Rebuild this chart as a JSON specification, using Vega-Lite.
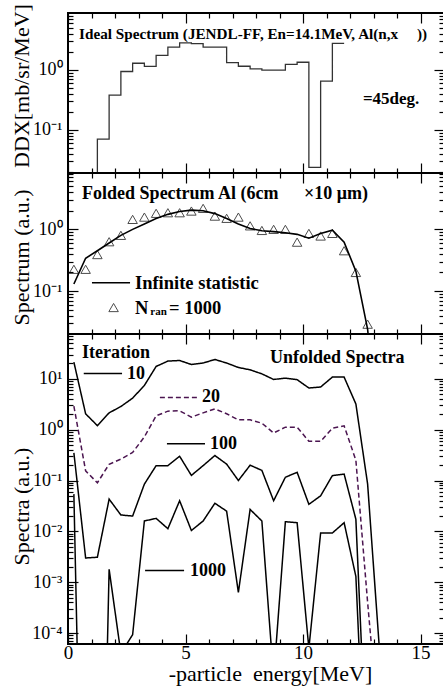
{
"$schema": "https://vega.github.io/schema/vega-lite/v6.json",
"padding": {"left": 8, "top": 2, "right": 0, "bottom": 2},
"spacing": 0,
"bounds": "flush",
"config": {
 "view": {"stroke": "black", "strokeWidth": 2},
 "axis": {"labelFont": "Liberation Serif", "titleFont": "Liberation Serif", "labelColor": "black", "titleColor": "black", "tickColor": "black", "tickWidth": 1.2, "domain": false, "grid": false, "labelFlush": false, "labelOverlap": false, "labelBound": false, "titleFontWeight": "normal"}
},
"datasets": {
 "ideal": [{"e":1.25,"v":0.019},{"e":1.25,"v":0.07},{"e":1.75,"v":0.38},{"e":2.25,"v":0.94},{"e":2.75,"v":1.29},{"e":3.25,"v":1.14},{"e":3.75,"v":1.75},{"e":4.25,"v":2.39},{"e":4.75,"v":2.82},{"e":5.25,"v":2.75},{"e":5.75,"v":2.39},{"e":6.25,"v":2.39},{"e":6.75,"v":1.32},{"e":7.25,"v":1.15},{"e":7.75,"v":1.04},{"e":8.25,"v":0.99},{"e":8.75,"v":0.99},{"e":9.25,"v":1.24},{"e":9.75,"v":1.34},{"e":10.25,"v":0.0236},{"e":10.75,"v":0.65},{"e":11.25,"v":2.78},{"e":11.75,"v":2.78}],
 "notes1": [{"x":0.47,"y":4.0,"t":"Ideal Spectrum (JENDL-FF, En=14.1MeV, Al(n,x"},{"x":14.85,"y":4.0,"t":"))"}],
 "notes1b": [{"x":12.55,"y":0.33,"t":"=45deg."}],
 "curve": [{"e":0.25,"v":0.13},{"e":0.75,"v":0.34},{"e":1.25,"v":0.45},{"e":1.75,"v":0.6},{"e":2.25,"v":0.8},{"e":2.75,"v":1.0},{"e":3.25,"v":1.22},{"e":3.75,"v":1.5},{"e":4.25,"v":1.75},{"e":4.75,"v":1.95},{"e":5.25,"v":2.05},{"e":5.75,"v":2.0},{"e":6.25,"v":1.8},{"e":6.75,"v":1.5},{"e":7.25,"v":1.22},{"e":7.75,"v":1.03},{"e":8.25,"v":0.95},{"e":8.75,"v":0.92},{"e":9.25,"v":0.88},{"e":9.75,"v":0.83},{"e":10.25,"v":0.72},{"e":10.75,"v":0.86},{"e":11.25,"v":0.97},{"e":11.75,"v":0.62},{"e":12.25,"v":0.21},{"e":12.75,"v":0.024},{"e":13.25,"v":0.0003}],
 "tri": [{"e":0.25,"v":0.225},{"e":0.75,"v":0.225},{"e":1.25,"v":0.39},{"e":1.75,"v":0.63},{"e":2.25,"v":0.8},{"e":2.75,"v":1.45},{"e":3.25,"v":1.58},{"e":3.75,"v":1.82},{"e":4.25,"v":1.86},{"e":4.75,"v":1.86},{"e":5.25,"v":1.98},{"e":5.75,"v":2.19},{"e":6.25,"v":1.64},{"e":6.75,"v":1.51},{"e":7.25,"v":1.58},{"e":7.75,"v":1.14},{"e":8.25,"v":0.96},{"e":8.75,"v":1.0},{"e":9.25,"v":1.0},{"e":9.75,"v":0.62},{"e":10.25,"v":0.86},{"e":10.75,"v":0.78},{"e":11.25,"v":0.86},{"e":11.75,"v":0.45},{"e":12.25,"v":0.2},{"e":12.75,"v":0.029}],
 "leg2line": [{"x":1.02,"x2":2.64,"y":0.136}],
 "leg2pt": [{"x":1.94,"y":0.054}],
 "notes2t": [{"x":0.6,"y":3.73,"t":"Folded Spectrum Al (6cm"},{"x":10.04,"y":3.73,"t":"×10 μm)"}],
 "notes2": [{"x":2.85,"y":0.136,"t":"Infinite statistic"},{"x":2.85,"y":0.054,"t":"N"},{"x":4.3,"y":0.054,"t":"= 1000"}],
 "notes2sub": [{"x":3.5,"y":0.045,"t":"ran"}],
 "unf": [
  {"it":"10","e":0.25,"v":21.3},{"it":"10","e":0.75,"v":2.05},{"it":"10","e":1.25,"v":1.2},{"it":"10","e":1.75,"v":2.14},{"it":"10","e":2.25,"v":2.85},{"it":"10","e":2.75,"v":4.17},{"it":"10","e":3.25,"v":7.4},{"it":"10","e":3.75,"v":17.5},{"it":"10","e":4.25,"v":22.3},{"it":"10","e":4.75,"v":22.9},{"it":"10","e":5.25,"v":19.1},{"it":"10","e":5.75,"v":20.4},{"it":"10","e":6.25,"v":24},{"it":"10","e":6.75,"v":20.4},{"it":"10","e":7.25,"v":16.7},{"it":"10","e":7.75,"v":15},{"it":"10","e":8.25,"v":12.5},{"it":"10","e":8.75,"v":9.7},{"it":"10","e":9.25,"v":10.3},{"it":"10","e":9.75,"v":9.6},{"it":"10","e":10.25,"v":6.6},{"it":"10","e":10.75,"v":6.9},{"it":"10","e":11.25,"v":10.8},{"it":"10","e":11.75,"v":10.8},{"it":"10","e":12.25,"v":3.2},{"it":"10","e":12.75,"v":0.085},{"it":"10","e":13.25,"v":0.00005},
  {"it":"20","e":0.25,"v":2.9},{"it":"20","e":0.75,"v":0.155},{"it":"20","e":1.25,"v":0.09},{"it":"20","e":1.75,"v":0.209},{"it":"20","e":2.25,"v":0.263},{"it":"20","e":2.75,"v":0.355},{"it":"20","e":3.25,"v":0.72},{"it":"20","e":3.75,"v":1.87},{"it":"20","e":4.25,"v":2.31},{"it":"20","e":4.75,"v":2.35},{"it":"20","e":5.25,"v":1.76},{"it":"20","e":5.75,"v":2.14},{"it":"20","e":6.25,"v":2.56},{"it":"20","e":6.75,"v":2.05},{"it":"20","e":7.25,"v":1.56},{"it":"20","e":7.75,"v":1.56},{"it":"20","e":8.25,"v":1.34},{"it":"20","e":8.75,"v":0.86},{"it":"20","e":9.25,"v":1.12},{"it":"20","e":9.75,"v":1.12},{"it":"20","e":10.25,"v":0.59},{"it":"20","e":10.75,"v":0.59},{"it":"20","e":11.25,"v":1.07},{"it":"20","e":11.75,"v":1.19},{"it":"20","e":12.25,"v":0.25},{"it":"20","e":12.75,"v":0.0004},{"it":"20","e":13.25,"v":0.000001},
  {"it":"100","e":0.25,"v":0.35},{"it":"100","e":0.75,"v":0.003},{"it":"100","e":1.25,"v":0.0031},{"it":"100","e":1.75,"v":0.043},{"it":"100","e":2.25,"v":0.021},{"it":"100","e":2.75,"v":0.02},{"it":"100","e":3.25,"v":0.085},{"it":"100","e":3.75,"v":0.196},{"it":"100","e":4.25,"v":0.196},{"it":"100","e":4.75,"v":0.3},{"it":"100","e":5.25,"v":0.126},{"it":"100","e":5.75,"v":0.196},{"it":"100","e":6.25,"v":0.31},{"it":"100","e":6.75,"v":0.21},{"it":"100","e":7.25,"v":0.1},{"it":"100","e":7.75,"v":0.2},{"it":"100","e":8.25,"v":0.158},{"it":"100","e":8.75,"v":0.04},{"it":"100","e":9.25,"v":0.116},{"it":"100","e":9.75,"v":0.145},{"it":"100","e":10.25,"v":0.034},{"it":"100","e":10.75,"v":0.05},{"it":"100","e":11.25,"v":0.125},{"it":"100","e":11.75,"v":0.134},{"it":"100","e":12.25,"v":0.0173},{"it":"100","e":12.75,"v":0.0000001},
  {"it":"1000","e":0.25,"v":0.054},{"it":"1000","e":0.75,"v":1e-12},{"it":"1000","e":1.25,"v":1e-13},{"it":"1000","e":1.75,"v":0.0018},{"it":"1000","e":2.25,"v":0.00004},{"it":"1000","e":2.75,"v":0.000093},{"it":"1000","e":3.25,"v":0.016},{"it":"1000","e":3.75,"v":0.018},{"it":"1000","e":4.25,"v":0.0113},{"it":"1000","e":4.75,"v":0.04},{"it":"1000","e":5.25,"v":0.0104},{"it":"1000","e":5.75,"v":0.016},{"it":"1000","e":6.25,"v":0.0357},{"it":"1000","e":6.75,"v":0.025},{"it":"1000","e":7.25,"v":0.00063},{"it":"1000","e":7.75,"v":0.027},{"it":"1000","e":8.25,"v":0.016},{"it":"1000","e":8.75,"v":0.000013},{"it":"1000","e":9.25,"v":0.0155},{"it":"1000","e":9.75,"v":0.0148},{"it":"1000","e":10.25,"v":0.00005},{"it":"1000","e":10.75,"v":0.0093},{"it":"1000","e":11.25,"v":0.0093},{"it":"1000","e":11.75,"v":0.0148},{"it":"1000","e":12.25,"v":0.0013},{"it":"1000","e":12.75,"v":1e-8}
 ],
 "leg3": [{"it":"10","x":0.67,"x2":2.3,"y":12.7},{"it":"20","x":3.91,"x2":5.57,"y":4.3},{"it":"100","x":4.21,"x2":5.83,"y":0.53},{"it":"1000","x":3.28,"x2":4.94,"y":0.0017}],
 "notes3": [{"x":0.6,"y":32,"t":"Iteration"},{"x":2.51,"y":12.7,"t":"10"},{"x":5.7,"y":4.3,"t":"20"},{"x":6.04,"y":0.53,"t":"100"},{"x":5.19,"y":0.0017,"t":"1000"},{"x":8.6,"y":26,"t":"Unfolded Spectra"}]
},
"vconcat": [
 {
  "width": 376, "height": 160,
  "layer": [
   {"data": {"name": "ideal"}, "mark": {"type": "line", "interpolate": "step-after", "color": "#333333", "strokeWidth": 1.3, "clip": true},
    "encoding": {
     "x": {"field": "e", "type": "quantitative", "scale": {"domain": [0, 16], "nice": false, "zero": false},
       "axis": {"orient": "bottom", "values": [0,1,2,3,4,5,6,7,8,9,10,11,12,13,14,15,16], "labels": false, "title": null, "tickSize": {"condition": {"test": "datum.value % 5 === 0", "value": -10}, "value": -5}}},
     "y": {"field": "v", "type": "quantitative", "scale": {"type": "log", "domain": [0.019, 8.9], "nice": false},
       "axis": {"orient": "left", "values": [0.02,0.03,0.04,0.05,0.06,0.07,0.08,0.09,0.1,0.2,0.3,0.4,0.5,0.6,0.7,0.8,0.9,1,2,3,4,5,6,7,8],
        "labelExpr": "abs(log(datum.value)/LN10-round(log(datum.value)/LN10))<0.001 ? '10'+(round(log(datum.value)/LN10)<0?'⁻':'')+substring('⁰¹²³⁴⁵⁶⁷⁸⁹',abs(round(log(datum.value)/LN10)),abs(round(log(datum.value)/LN10))+1) : ''",
        "labelFontSize": 18, "labelPadding": 16,
        "tickSize": {"condition": {"test": "abs(log(datum.value)/LN10-round(log(datum.value)/LN10))<0.001", "value": -10}, "value": -5},
        "title": "DDX[mb/sr/MeV]", "titleFontSize": 22, "titleX": -47, "titleY": 72.5, "titleBaseline": "middle", "titleAlign": "center", "titleAngle": -90}}
    }},
   {"data": {"name": "notes1"}, "mark": {"type": "text", "align": "left", "baseline": "middle", "font": "Liberation Serif", "fontWeight": "bold", "fontSize": 15.2, "color": "black"},
    "encoding": {
     "x": {"field": "x", "type": "quantitative", "scale": {"domain": [0, 16], "nice": false, "zero": false},
       "axis": {"orient": "top", "values": [0,1,2,3,4,5,6,7,8,9,10,11,12,13,14,15,16], "labels": false, "title": null, "tickSize": {"condition": {"test": "datum.value % 5 === 0", "value": -10}, "value": -5}}},
     "y": {"field": "y", "type": "quantitative", "scale": {"type": "log", "domain": [0.019, 8.9], "nice": false},
       "axis": {"orient": "right", "values": [0.02,0.03,0.04,0.05,0.06,0.07,0.08,0.09,0.1,0.2,0.3,0.4,0.5,0.6,0.7,0.8,0.9,1,2,3,4,5,6,7,8], "labels": false, "title": null,
        "tickSize": {"condition": {"test": "abs(log(datum.value)/LN10-round(log(datum.value)/LN10))<0.001", "value": -10}, "value": -5}}},
     "text": {"field": "t"}
    }},
   {"data": {"name": "notes1b"}, "mark": {"type": "text", "align": "left", "baseline": "middle", "font": "Liberation Serif", "fontWeight": "bold", "fontSize": 17, "color": "black"},
    "encoding": {"x": {"field": "x", "type": "quantitative", "axis": null}, "y": {"field": "y", "type": "quantitative", "axis": null}, "text": {"field": "t"}}}
  ],
  "resolve": {"axis": {"x": "independent", "y": "independent"}}
 },
 {
  "width": 376, "height": 161,
  "layer": [
   {"data": {"name": "curve"}, "mark": {"type": "line", "color": "black", "strokeWidth": 1.6, "clip": true},
    "encoding": {
     "x": {"field": "e", "type": "quantitative", "scale": {"domain": [0, 16], "nice": false, "zero": false},
       "axis": {"orient": "bottom", "values": [0,1,2,3,4,5,6,7,8,9,10,11,12,13,14,15,16], "labels": false, "title": null, "tickSize": {"condition": {"test": "datum.value % 5 === 0", "value": -10}, "value": -5}}},
     "y": {"field": "v", "type": "quantitative", "scale": {"type": "log", "domain": [0.0201, 8.2], "nice": false},
       "axis": {"orient": "left", "values": [0.03,0.04,0.05,0.06,0.07,0.08,0.09,0.1,0.2,0.3,0.4,0.5,0.6,0.7,0.8,0.9,1,2,3,4,5,6,7,8],
        "labelExpr": "abs(log(datum.value)/LN10-round(log(datum.value)/LN10))<0.001 ? '10'+(round(log(datum.value)/LN10)<0?'⁻':'')+substring('⁰¹²³⁴⁵⁶⁷⁸⁹',abs(round(log(datum.value)/LN10)),abs(round(log(datum.value)/LN10))+1) : ''",
        "labelFontSize": 18, "labelPadding": 16,
        "tickSize": {"condition": {"test": "abs(log(datum.value)/LN10-round(log(datum.value)/LN10))<0.001", "value": -10}, "value": -5},
        "title": "Spectrum (a.u.)", "titleFontSize": 22, "titleX": -47, "titleY": 84, "titleBaseline": "middle", "titleAlign": "center", "titleAngle": -90}}
    }},
   {"data": {"name": "tri"}, "mark": {"type": "point", "shape": "triangle-up", "filled": false, "stroke": "black", "strokeWidth": 1, "size": 90},
    "encoding": {
     "x": {"field": "e", "type": "quantitative", "scale": {"domain": [0, 16], "nice": false, "zero": false},
       "axis": {"orient": "top", "values": [0,1,2,3,4,5,6,7,8,9,10,11,12,13,14,15,16], "labels": false, "title": null, "tickSize": {"condition": {"test": "datum.value % 5 === 0", "value": -10}, "value": -5}}},
     "y": {"field": "v", "type": "quantitative", "scale": {"type": "log", "domain": [0.0201, 8.2], "nice": false},
       "axis": {"orient": "right", "values": [0.03,0.04,0.05,0.06,0.07,0.08,0.09,0.1,0.2,0.3,0.4,0.5,0.6,0.7,0.8,0.9,1,2,3,4,5,6,7,8], "labels": false, "title": null,
        "tickSize": {"condition": {"test": "abs(log(datum.value)/LN10-round(log(datum.value)/LN10))<0.001", "value": -10}, "value": -5}}}
    }},
   {"data": {"name": "leg2line"}, "mark": {"type": "rule", "color": "black", "strokeWidth": 1.6},
    "encoding": {"x": {"field": "x", "type": "quantitative", "axis": null}, "x2": {"field": "x2"}, "y": {"field": "y", "type": "quantitative", "axis": null}}},
   {"data": {"name": "leg2pt"}, "mark": {"type": "point", "shape": "triangle-up", "filled": false, "stroke": "black", "strokeWidth": 1, "size": 90},
    "encoding": {"x": {"field": "x", "type": "quantitative", "axis": null}, "y": {"field": "y", "type": "quantitative", "axis": null}}},
   {"data": {"name": "notes2t"}, "mark": {"type": "text", "align": "left", "baseline": "middle", "font": "Liberation Serif", "fontWeight": "bold", "fontSize": 18, "color": "black"},
    "encoding": {"x": {"field": "x", "type": "quantitative", "axis": null}, "y": {"field": "y", "type": "quantitative", "axis": null}, "text": {"field": "t"}}},
   {"data": {"name": "notes2"}, "mark": {"type": "text", "align": "left", "baseline": "middle", "font": "Liberation Serif", "fontWeight": "bold", "fontSize": 18.5, "color": "black"},
    "encoding": {"x": {"field": "x", "type": "quantitative", "axis": null}, "y": {"field": "y", "type": "quantitative", "axis": null}, "text": {"field": "t"}}},
   {"data": {"name": "notes2sub"}, "mark": {"type": "text", "align": "left", "baseline": "middle", "font": "Liberation Serif", "fontWeight": "bold", "fontSize": 11, "color": "black"},
    "encoding": {"x": {"field": "x", "type": "quantitative", "axis": null}, "y": {"field": "y", "type": "quantitative", "axis": null}, "text": {"field": "t"}}}
  ],
  "resolve": {"axis": {"x": "independent", "y": "independent"}}
 },
 {
  "width": 376, "height": 310,
  "layer": [
   {"data": {"name": "unf"}, "mark": {"type": "line", "strokeWidth": 1.5, "clip": true},
    "encoding": {
     "x": {"field": "e", "type": "quantitative", "scale": {"domain": [0, 16], "nice": false, "zero": false},
       "axis": {"orient": "bottom", "values": [0,1,2,3,4,5,6,7,8,9,10,11,12,13,14,15,16], "labelExpr": "datum.value % 5 === 0 ? datum.label : ''", "labelFontSize": 19, "labelPadding": 9,
        "tickSize": {"condition": {"test": "datum.value % 5 === 0", "value": -10}, "value": -5},
        "title": "-particle\u00a0 energy[MeV]", "titleFontSize": 22, "titleX": 202, "titleY": 36, "titleBaseline": "alphabetic", "titleAlign": "center"}},
     "y": {"field": "v", "type": "quantitative", "scale": {"type": "log", "domain": [0.000061, 76], "nice": false},
       "axis": {"orient": "left", "values": [0.00007,0.00008,0.00009,0.0001,0.0002,0.0003,0.0004,0.0005,0.0006,0.0007,0.0008,0.0009,0.001,0.002,0.003,0.004,0.005,0.006,0.007,0.008,0.009,0.01,0.02,0.03,0.04,0.05,0.06,0.07,0.08,0.09,0.1,0.2,0.3,0.4,0.5,0.6,0.7,0.8,0.9,1,2,3,4,5,6,7,8,9,10,20,30,40,50,60,70],
        "labelExpr": "abs(log(datum.value)/LN10-round(log(datum.value)/LN10))<0.001 ? '10'+(round(log(datum.value)/LN10)<0?'⁻':'')+substring('⁰¹²³⁴⁵⁶⁷⁸⁹',abs(round(log(datum.value)/LN10)),abs(round(log(datum.value)/LN10))+1) : ''",
        "labelFontSize": 18, "labelPadding": 16,
        "tickSize": {"condition": {"test": "abs(log(datum.value)/LN10-round(log(datum.value)/LN10))<0.001", "value": -10}, "value": -5},
        "title": "Spectra (a.u.)", "titleFontSize": 22, "titleX": -47, "titleY": 172, "titleBaseline": "middle", "titleAlign": "center", "titleAngle": -90}},
     "color": {"field": "it", "type": "nominal", "scale": {"domain": ["10","20","100","1000"], "range": ["black","#4b1550","black","black"]}, "legend": null},
     "strokeDash": {"field": "it", "type": "nominal", "scale": {"domain": ["10","20","100","1000"], "range": [[1,0],[5,3],[1,0],[1,0]]}, "legend": null}
    }},
   {"data": {"name": "leg3"}, "mark": {"type": "rule", "strokeWidth": 1.5},
    "encoding": {"x": {"field": "x", "type": "quantitative", "axis": null}, "x2": {"field": "x2"}, "y": {"field": "y", "type": "quantitative", "axis": null},
     "color": {"field": "it", "type": "nominal", "scale": {"domain": ["10","20","100","1000"], "range": ["black","#4b1550","black","black"]}, "legend": null},
     "strokeDash": {"field": "it", "type": "nominal", "scale": {"domain": ["10","20","100","1000"], "range": [[1,0],[5,3],[1,0],[1,0]]}, "legend": null}}},
   {"data": {"name": "notes3"}, "mark": {"type": "text", "align": "left", "baseline": "middle", "font": "Liberation Serif", "fontWeight": "bold", "fontSize": 18, "color": "black"},
    "encoding": {
     "x": {"field": "x", "type": "quantitative", "scale": {"domain": [0, 16], "nice": false, "zero": false},
       "axis": {"orient": "top", "values": [0,1,2,3,4,5,6,7,8,9,10,11,12,13,14,15,16], "labels": false, "title": null, "tickSize": {"condition": {"test": "datum.value % 5 === 0", "value": -10}, "value": -5}}},
     "y": {"field": "y", "type": "quantitative", "scale": {"type": "log", "domain": [0.000061, 76], "nice": false},
       "axis": {"orient": "right", "values": [0.00007,0.00008,0.00009,0.0001,0.0002,0.0003,0.0004,0.0005,0.0006,0.0007,0.0008,0.0009,0.001,0.002,0.003,0.004,0.005,0.006,0.007,0.008,0.009,0.01,0.02,0.03,0.04,0.05,0.06,0.07,0.08,0.09,0.1,0.2,0.3,0.4,0.5,0.6,0.7,0.8,0.9,1,2,3,4,5,6,7,8,9,10,20,30,40,50,60,70], "labels": false, "title": null,
        "tickSize": {"condition": {"test": "abs(log(datum.value)/LN10-round(log(datum.value)/LN10))<0.001", "value": -10}, "value": -5}}},
     "text": {"field": "t"}
    }}
  ],
  "resolve": {"axis": {"x": "independent", "y": "independent"}}
 }
]
}
